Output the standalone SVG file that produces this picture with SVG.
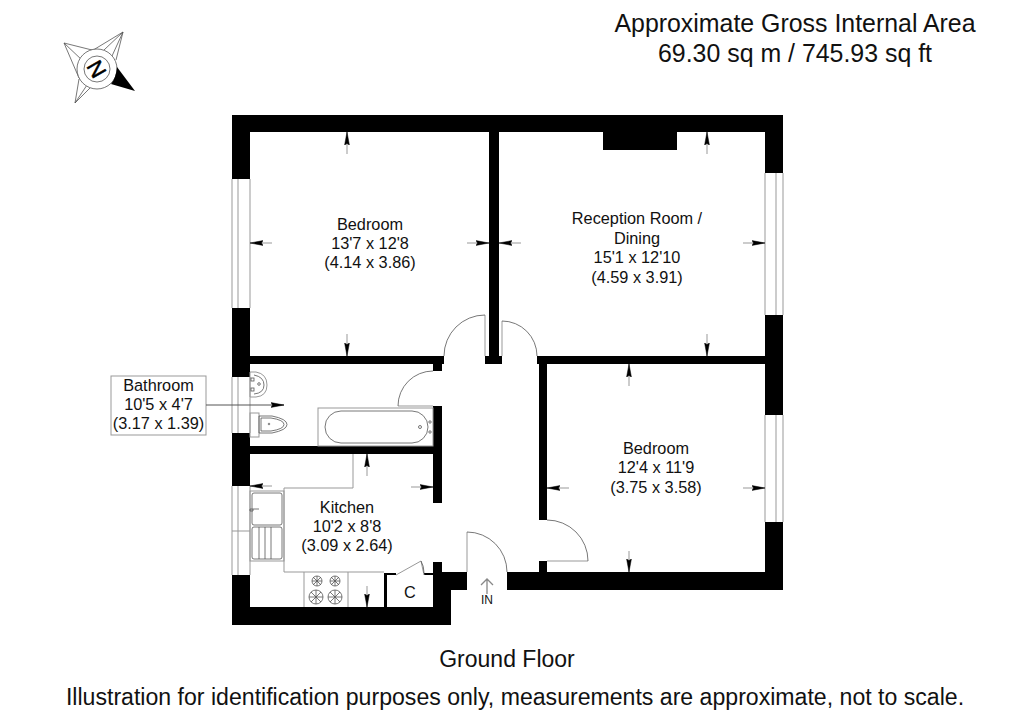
<svg xmlns="http://www.w3.org/2000/svg" width="1024" height="724" viewBox="0 0 1024 724">
<style>
text{font-family:"Liberation Sans",Arial,sans-serif;fill:#111;text-anchor:middle}
.l{font-size:16.300px}
.t{font-size:24.900px}
.f{font-size:23px}
.b{font-size:23.100px}
.w{fill:#000;stroke:none}
.g{fill:none;stroke:#999;stroke-width:1}
.k{fill:none;stroke:#555;stroke-width:.8}
.d{stroke:#999;stroke-width:1;fill:none;marker-end:url(#a)}
</style>
<defs>
<marker id="a" markerUnits="userSpaceOnUse" markerWidth="14" markerHeight="8" refX="13" refY="4" orient="auto"><path d="M0 1.600L13 4L0 6.400L1.500 4Z" fill="#000" stroke="#000" stroke-width=".5"/></marker>
</defs>
<rect width="1024" height="724" fill="#fff"/>
<g id="walls">
<path class="w" d="M232 115H783V173H765V132H677V150H603V132H499V356H502V364H485V356H489V132H250V179H232Z"/>
<path class="w" d="M232 308H250V356H444V364H442V371H433V364H250V377H232Z"/>
<path class="w" d="M232 433H250V446H442V454H250V486H232Z"/>
<rect class="w" x="433" y="406" width="9" height="40"/>
<rect class="w" x="433" y="454" width="9" height="49"/>
<path class="w" d="M232 575H250V607H384V573H396V575H387V607H433V575H424V573H433V562H442V572H467V590H451V625H232Z"/>
<rect class="w" x="537" y="356" width="228" height="8"/>
<rect class="w" x="539" y="364" width="8" height="156"/>
<rect class="w" x="539" y="561" width="8" height="11"/>
<path class="w" d="M507 572H765V522H783V590H507Z"/>
<rect class="w" x="765" y="315" width="18" height="100"/>
</g>
<g id="windows" class="g">
<path d="M232 179V308M238 179V308M250 179V308"/>
<path d="M232 377V433M238 377V433M250 377V433"/>
<path d="M232 486V575M238 486V575M250 486V575M232 531H250"/>
<path d="M765 173V315M776 173V315M783 173V315"/>
<path d="M765 415V522M776 415V522M783 415V522"/>
</g>
<g id="doors">
<path class="g" d="M485 356V315"/><path class="k" d="M485 315A41 41 0 0 0 444 356"/>
<path class="g" d="M502 356V321"/><path class="k" d="M502 321A35 35 0 0 1 537 356"/>
<path class="g" d="M398 406H433"/><path class="k" d="M433 371A35 35 0 0 0 398 406"/>
<path class="g" d="M467 572V532"/><path class="k" d="M467 532A40 40 0 0 1 507 572"/>
<path class="g" d="M547 561H588"/><path class="k" d="M547 520A41 41 0 0 1 588 561"/>
<path class="g" d="M396 575L421 561L424 575"/><path class="k" d="M421 561Q424 566 424 573"/>
</g>
<g id="fittings">
<rect class="g" x="318" y="408" width="115" height="38"/>
<rect class="k" x="325" y="411" width="103" height="32" rx="16"/>
<circle class="k" cx="420" cy="427" r="1.500"/><circle class="k" cx="430" cy="422" r="1.200"/><circle class="k" cx="430" cy="432" r="1.200"/>
<path class="g" d="M250 372H256Q267 374 267 385Q267 396 256 397H250Z"/>
<path class="k" d="M254 375Q264 377 264 385Q264 393 254 394"/><circle class="k" cx="259" cy="384" r="1.300"/>
<rect class="k" x="251" y="378" width="3" height="3"/><rect class="k" x="251" y="388" width="3" height="3"/>
<rect class="g" x="250" y="413" width="9" height="24"/>
<path class="k" d="M259 416H272Q287 419 287 424.500Q287 430 272 433H259Z"/>
<path class="k" d="M261 418H271Q284 420 284 424.500Q284 429 271 431H261Z"/><circle class="k" cx="269" cy="424" r=".8"/>
<path class="g" d="M353 454V488H284V572H384M304 572V607M348 572V607"/>
<rect class="g" x="250" y="491" width="34" height="70"/>
<rect class="k" x="252" y="493" width="30" height="32" rx="2"/>
<rect class="k" x="252" y="527" width="30" height="32" rx="2"/>
<path class="k" d="M259 527V559M265 527V559M271 527V559M250 509H253V511H250ZM253 509H259"/>
<g class="k">
<circle cx="317" cy="581" r="5"/><circle cx="335" cy="581" r="5"/><circle cx="316" cy="597" r="7"/><circle cx="335" cy="597" r="7"/>
<path d="M312 581H322M317 576V586M330 581H340M335 576V586M309 597H323M316 590V604M328 597H342M335 590V604M313 577L321 585M321 577L313 585M331 577L339 585M339 577L331 585M311 592L321 602M321 592L311 602M330 592L340 602M340 592L330 602"/>
</g>
<rect class="g" x="111" y="376" width="95" height="59"/>
</g>
<g id="connectors">
<path class="d" d="M347 154V132"/><path class="d" d="M347 334V356"/><path class="d" d="M272 243H250"/><path class="d" d="M467 243H489"/>
<path class="d" d="M707 154V132"/><path class="d" d="M707 334V356"/><path class="d" d="M521 243H499"/><path class="d" d="M743 243H765"/>
<path class="d" d="M629 386V364"/><path class="d" d="M629 551V572"/><path class="d" d="M569 488H547"/><path class="d" d="M743 488H765"/>
<path class="d" d="M367 476V454"/><path class="d" d="M367 586V607"/><path class="d" d="M272 486H250"/><path class="d" d="M411 487H433"/>
<path d="M206 405H284" style="stroke:#555;stroke-width:1;fill:none;marker-end:url(#a)"/>
<path d="M487 594V579M481 585L487 579L493 585" fill="none" stroke="#888" stroke-width="1.300"/>
</g>
<g id="compass">
<path class="k" d="M123 32L104 50M123 32L112 56M123 32L85 55M64 43L83 61M64 43L92 50M64 43L79 78M75 103L79 79M75 103L90 88M75 103L87 85M123 32L116 60"/>
<circle cx="97" cy="69" r="20" fill="#fff" stroke="#555" stroke-width=".8"/>
<circle cx="97" cy="69" r="13" class="k"/>
<path d="M135 91L111 84Q116 78 117 67Z" fill="#000"/>
<text x="97" y="69" transform="rotate(60 97 69)" dy="8" style="font-size:22px;fill:#000;stroke:#000;stroke-width:.5">N</text>
</g>
<g id="labels">
<text class="t" x="795" y="32">Approximate Gross Internal Area</text>
<text class="t" x="795" y="62">69.30 sq m / 745.93 sq ft</text>
<text class="l" x="370" y="230">Bedroom</text><text class="l" x="370" y="249">13'7 x 12'8</text><text class="l" x="370" y="268">(4.14 x 3.86)</text>
<text class="l" x="637" y="224">Reception Room /</text><text class="l" x="637" y="244">Dining</text><text class="l" x="637" y="263">15'1 x 12'10</text><text class="l" x="637" y="283">(4.59 x 3.91)</text>
<text class="l" x="656" y="454">Bedroom</text><text class="l" x="656" y="473">12'4 x 11'9</text><text class="l" x="656" y="493">(3.75 x 3.58)</text>
<text class="l" x="347" y="513">Kitchen</text><text class="l" x="347" y="532">10'2 x 8'8</text><text class="l" x="347" y="551">(3.09 x 2.64)</text>
<text class="l" x="158.500" y="391">Bathroom</text><text class="l" x="158.500" y="410">10'5 x 4'7</text><text class="l" x="158.500" y="429">(3.17 x 1.39)</text>
<text class="l" x="410" y="598">C</text>
<text x="487" y="604" style="font-size:12px">IN</text>
<text class="f" x="507" y="667">Ground Floor</text>
<text class="b" x="515" y="705">Illustration for identification purposes only, measurements are approximate, not to scale.</text>
</g>
</svg>
